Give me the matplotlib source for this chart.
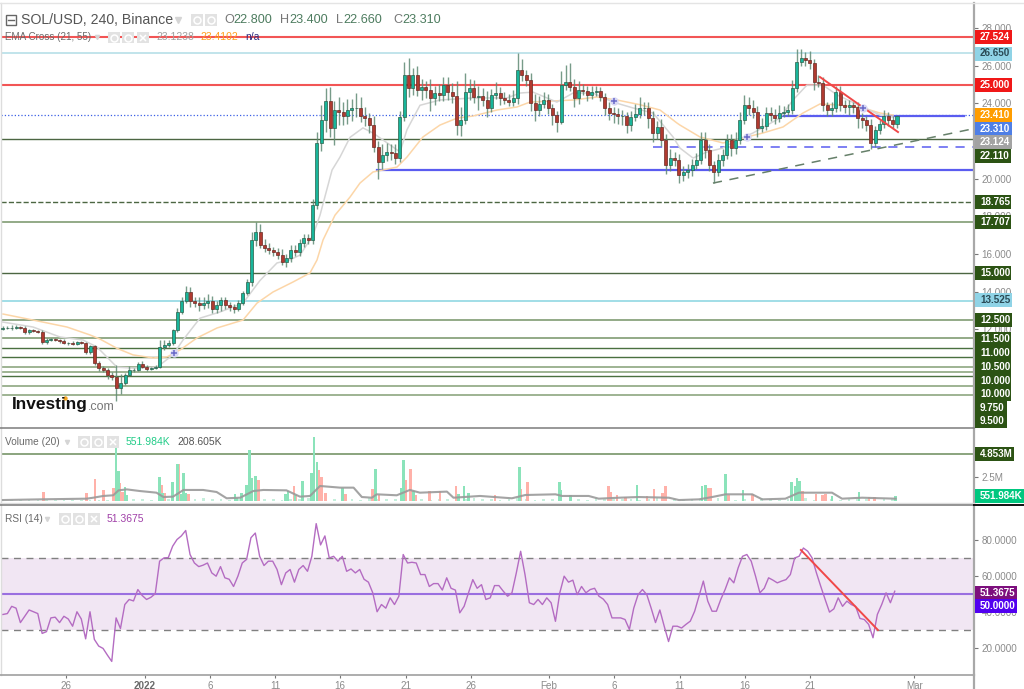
import numpy as np
import matplotlib
matplotlib.use("Agg")
import matplotlib.pyplot as plt
from matplotlib.patches import Rectangle

plt.rcParams['font.family'] = ['Liberation Sans', 'DejaVu Sans']

# ---------- data ----------
close = [
 12.08,12.1,12.1,12.12,12.1,11.88,11.95,11.9,11.85,11.35,
 11.45,11.5,11.42,11.38,11.3,11.3,11.25,11.35,11.28,10.82,
 11.1,10.22,9.95,9.85,9.58,9.49,8.9,9.15,9.58,9.85,
 9.85,10.17,10.03,9.9,9.95,10.03,11.07,11.18,11.3,11.95,
 12.95,13.5,14.0,13.5,13.4,13.3,13.4,13.5,13.1,13.3,
 13.55,13.3,13.2,13.1,13.4,13.95,14.5,16.75,17.2,16.5,
 16.3,16.2,16.1,15.95,15.6,15.8,16.2,16.1,16.6,16.85,
 16.75,18.6,21.9,23.1,24.15,22.7,23.65,23.55,23.33,23.65,
 23.76,23.76,23.33,23.2,22.85,21.7,20.9,21.26,21.42,21.37,
 21.1,23.28,25.5,24.82,25.5,24.7,24.87,24.7,24.29,24.55,
 24.45,25.0,24.6,24.4,22.85,23.12,24.6,24.82,24.34,24.4,
 24.18,23.76,24.45,24.55,24.29,24.18,24.07,24.29,25.77,25.5,
 25.24,24.02,23.65,23.97,24.18,23.76,23.38,23.0,25.0,25.13,
 24.87,24.29,24.71,24.65,24.45,24.6,24.65,24.34,23.76,23.5,
 23.45,23.33,23.33,22.85,23.28,23.45,23.76,23.76,23.2,22.43,
 22.75,22.06,20.73,21.1,20.99,20.2,20.36,20.46,20.73,20.99,
 22.06,21.52,20.73,20.36,20.99,21.26,22.06,21.63,22.06,23.12,
 23.93,23.76,23.54,22.7,22.8,23.5,23.38,23.2,23.5,23.54,
 23.65,24.82,26.2,26.41,26.3,26.14,25.13,25.08,23.9,23.65,
 23.76,24.6,23.9,23.8,23.9,23.8,23.2,23.12,22.85,21.9,
 22.6,22.9,23.33,23.12,22.9,23.31]
first_open = 12.05
wick_up = [
 .1,.1,.15,.1,.05,.1,.1,.05,.05,.1,
 .1,.05,.05,.05,.1,.05,.1,.05,.05,.05,
 .1,.1,.1,.1,.1,.15,.6,.5,.1,.2,
 .1,.1,.15,.1,.05,.1,.35,.25,.15,.1,
 .2,.2,.3,.25,.2,.35,.3,.4,.3,.2,
 .2,.2,.15,.15,.15,.1,.2,.4,.5,.4,
 .3,.3,.2,.2,.3,.2,.3,.3,.2,.2,
 .2,.3,.6,.8,.65,.7,.5,.7,.5,.6,
 .5,.8,.6,.5,.3,.5,.3,.6,.5,.4,
 .5,.3,.7,.9,.4,.5,.4,.3,.6,.4,
 .5,.4,.4,.5,.8,.7,1.0,.5,.4,.5,
 .4,.5,.3,.6,.3,.3,.3,.4,.9,.6,
 .3,.4,.5,.4,.4,.3,.2,.2,.7,.9,
 1.0,.4,.5,.3,.3,.3,.3,.2,.2,.3,
 .3,.3,.3,.2,.3,.5,.6,.3,.3,.4,
 .3,.4,.3,.5,.3,.3,.3,.3,.3,.4,
 .4,.4,.3,.2,.3,.3,.3,.3,.4,.4,
 .5,.4,.4,.3,.4,.3,.3,.3,.4,.3,
 .3,.4,.7,.5,.3,.5,.2,.4,.3,.2,
 .3,.3,.3,.3,.3,.2,.3,.3,.2,.3,
 .2,.2,.3,.2,.2,.1]
wick_dn = [
 .1,.05,.15,.1,.1,.1,.1,.05,.05,.1,
 .1,.05,.05,.1,.05,.1,.05,.05,.05,.1,
 .1,.1,.15,.1,.2,.15,.7,.3,.1,.05,
 .1,.05,.05,.1,.05,.05,.05,.15,.1,.1,
 .1,.15,.1,.3,.2,.3,.2,.25,.2,.2,
 .3,.2,.2,.25,.1,.1,.1,.2,.3,.2,
 .2,.2,.2,.2,.2,.3,.2,.2,.2,.2,
 .2,.2,.2,.4,.6,.5,.9,.7,.5,.4,
 .6,.5,.3,.4,.4,.3,.9,.4,.3,.4,
 .3,.2,.2,.5,.4,.3,.5,.4,.7,.4,
 .3,.3,.4,.4,.55,.6,.2,.4,.3,.7,
 .3,.5,.2,.2,.4,.2,.2,.2,.3,.3,
 .3,.4,.6,.3,.2,.3,.5,.5,.1,.3,
 .2,.5,.3,.2,.3,.2,.2,.2,.4,.4,
 .5,.4,.5,.4,.3,.2,.2,.4,.5,.5,
 .3,.3,.5,.3,.3,.45,.3,.3,.3,.2,
 .2,.4,.3,.6,.2,.3,.2,.4,.3,.2,
 .2,.4,.3,.5,.2,.2,.3,.3,.2,.2,
 .2,.2,.2,.2,.3,.3,.4,.2,.3,.3,
 .3,.2,.3,.3,.4,.3,.5,.4,.3,.3,
 .2,.2,.2,.3,.2,.2]

ema55_day = [-10.84,-8.54,-5.94,-4.18,-3.41,-2.11,-0.88,0.65,1.72,2.72,4.02,5.56,7.55,8.62,9.85,11.38,12.68,13.22,
             13.68,14.6,15.75,16.51,17.51,19.35,20.11,21.34,22.64,23.95,25.17,27.01,28.54,29.54,31.3,32.84,34.67,36.21,37.97,39.5,
             40.8,41.03,42.56,44.33,45.4,46.17,47.39,48.93,50.46,51.76,53.3,55.05,56.36,57.36]
ema55 = [12.82,12.5,12.13,11.71,11.49,11.0,10.65,10.49,10.54,10.91,11.55,12.08,12.5,13.4,13.99,14.52,15.0,15.69,
         16.75,18.07,19.03,19.77,20.36,20.62,21.15,22.22,22.85,23.22,23.33,23.65,23.81,24.07,24.13,24.18,24.34,24.18,23.93,23.65,
         22.96,22.85,22.22,21.9,22.06,22.22,22.43,22.75,23.49,23.97,23.91,23.76,23.49,23.38]
ema21_day = [-10.92,-8.54,-6.47,-4.71,-3.64,-2.11,-0.88,0.96,2.18,2.95,4.25,5.79,7.55,8.85,10.15,11.15,11.92,12.91,13.45,14.37,14.98,15.75,16.74,17.51,18.81,19.58,
             20.11,21.11,22.64,25.17,27.78,28.77,29.77,31.6,32.84,34.37,35.9,37.43,38.97,40.5,41.03,42.03,43.1,44.33,45.4,46.63,48.7,49.69,50.76,51.99,53.07,55.05,56.36,57.36]
ema21 = [12.4,12.13,11.6,11.44,11.07,10.0,9.95,10.0,10.65,11.44,12.6,12.93,13.4,14.6,15.53,15.7,15.95,17.0,18.07,20.46,21.15,22.2,22.7,22.43,21.8,21.42,
         22.6,23.9,24.18,24.29,24.29,24.55,24.6,24.07,24.55,24.55,24.07,23.76,23.49,22.22,21.63,21.1,21.42,21.63,22.06,22.43,23.23,24.18,24.97,24.97,24.45,23.81,23.38,23.28]

vol_up_pos = [25.9,26.5,28,28.4,35.9,36.6,38.9,40,41,41.4,42,53.2,53.7,54.7,55.9,56.5,57,57.9,64.8,65.4,67,68.7,70.8,71.3,72,77.8,85.4,91.4,91.9,94.1,
              104.4,105.7,106.7,118.4,127.6,128,130.1,145.4,160.3,161.1,165.7,169.7,180.8,181.6,182.1,182.7,190.1,196.3,204.7]
vol_up = [5.5,3.1,1.4,.6,2.5,.85,2.0,3.8,.7,2.9,.85,.76,.35,.85,1.7,5.3,2.4,2.6,.7,1.0,.6,2.1,2.9,6.65,4.07,1.3,3.3,1.3,4.2,1.0,
          .7,1.6,.8,3.55,2.0,1.1,.6,1.7,1.55,1.65,2.75,1.1,2.0,1.5,2.4,2.1,.5,.9,.55]
vol_dn_pos = [9.3,19.2,21.1,23,25.3,26.8,27.4,36.4,37.2,40.4,42.5,58.6,66.7,67.2,72.3,73.1,73.9,78.6,84.8,86.2,92.4,93.4,94.6,97.8,100.2,103.9,112.8,
              118.8,120.3,138.8,139.3,140.8,142.7,147.7,149.3,151.3,151.9,161.7,162.2,166.4,171.8,183.3,186.4,187.9,188.6,198.6,199.8]
vol_dn = [.93,.8,2.3,1.1,1.3,1.9,.9,1.7,.85,3.86,.7,2.2,1.55,.6,3.2,2.5,.85,.7,1.2,.6,2.2,3.3,.6,1.0,1.0,1.5,.6,
          1.2,2.0,1.6,.9,.6,.4,.55,1.2,.8,1.55,1.3,1.3,.6,.7,1.0,.7,.6,.7,.45,.45]
vol_small = [.1,.12,.1,.1,.15,.1,.12,.1,.1,.12,.15,.12,.1,.2,.25,.2,.2,.15,.15,.2,.25,.15,.2,.3,.2,.2,.15,.2,.15,.2,
             .25,.2,.15,.2,.25,.3,.2,.25,.2,.15,.2,.15,.3,.2,.25,.2,.3,.25,.2,.15,.25,.2,.15,.2,.3,.2,.25,.15,.2,.3,
             .2,.15,.25,.2,.3,.25,.2,.15,.3,.2,.25,.2,.2,.15,.25,.3,.2,.25,.15,.2,.25,.15,.3,.2,.15,.2,.25,.3,.2,.15,
             .25,.2,.3,.15,.2,.25,.15,.2,.25,.2,.15,.2,.25]
vol_ma_pos = [0,8.5,19.2,20.7,23,25.3,26.5,28.4,31.4,35.2,36.8,39,41.4,45.9,49,51.3,54.4,57.4,59.7,65,68.1,70.4,72.7,77.3,80.4,82.3,84.6,85.7,90.3,93.3,95.6,101.8,103.3,109.4,116.7,
              119.8,126.7,128.2,134.3,136.6,141.2,145.8,152.7,155,159.6,162.6,165.7,171.8,174.1,179.4,182.5,190.1,192.4,197,204.7]
vol_ma = [.1,.17,.24,.34,.52,.59,1.1,1.2,1.03,.86,.41,.45,1.14,1.14,.93,.28,.34,1.03,1.14,1.1,.45,.52,1.55,1.38,1.38,.41,.34,.69,.59,1.14,.86,.97,.34,.52,.28,
          .62,.69,.52,.52,.24,.34,.41,.34,.1,.17,.41,.69,.69,.17,.24,.86,.86,.24,.34,.24]

rsi = [
 38.5,39,43,42,34,37.5,41,40,39,28,
 29,36.6,37,34,37.5,36,32,40,36,25,
 40,24.7,21,19.7,16,12.5,36.6,30.7,44,46.8,
 46,52.3,49,46.8,48,50,68,69.8,70,76.3,
 80,82,85,71.7,67,65,65.8,67,61.5,59.7,
 65,58.8,58,54,59.7,67,69,81,83.6,70.7,
 65.6,68,68,63.4,55,61.5,63.4,56.4,63.4,65.6,
 62.4,70.7,88.8,77,82,69.8,70.7,68,70.7,62.4,
 63.7,61.5,63.4,58,56.4,50.5,40,44,42,47.7,
 44,48.6,71.7,67,67.4,67,60.6,60.6,54,55.6,
 55.6,52,58.8,53,52,39.4,43,50.5,57.8,53,
 55,46.8,47.7,54.5,54.5,51.4,48.6,50.5,61.5,73.5,
 60.6,45,44,46.8,44,47.7,45,34.7,50.5,59.7,
 56.4,57.5,49.5,54,50.5,52.3,53,48.6,47,44,
 36.6,36.6,36.6,35.7,30.2,42,49.5,52.3,49.5,42,
 34,41,32,23.5,32,32,31,33,34.8,40.3,
 48.6,57,46,40.3,40.3,46.8,52.3,58.8,56,64.3,
 70.7,71.7,68,59.7,50.5,53,58.8,57.5,56,57,
 57.8,60.6,69.8,70.7,75.3,73.5,69.8,61.5,54,46.8,
 39.8,41.6,47.7,43,45.9,44,43,36.3,35.7,33,
 25.6,38.5,44,50.5,45,51.37]

levels = [27.524,26.65,25.0,23.41,22.11,18.765,17.707,15.0,13.525,12.5,11.547,11.017,10.539,10.008,9.743,9.531,8.999,8.522]
level_colors = ['#f25555','#b0dce6','#f25555','#3a5fe5','#4c6642','#4c6642','#8aa47e','#4c6642','#88d4e0','#8aa47e','#8aa47e','#4a7040','#4a7040','#96ae8a','#96ae8a','#4a7040','#96ae8a','#96ae8a']
level_styles = ['-','-','-',':','-','--','-','-','-','-','-','-','-','-','-','-','-','-']
level_widths = [1.5,1.1,1.5,0.9,1.0,1.0,1.3,1.0,1.1,1.3,1.3,1.0,1.0,1.3,1.3,1.0,1.3,1.3]
blue_levels = [23.31,20.46,21.68]
blue_starts = [48.85,17.8,38.97]
blue_ends = [62.8,63.56,63.56]
blue_styles = ['-','-','--']
trend_red_day = [51.76,57.74]; trend_red = [25.4,22.48]
trend_dash_day = [43.56,63.4]; trend_dash = [19.77,22.64]
rsi_trend_day = [50.3,56.2]; rsi_trend = [74.2,29.9]
cross_day = [2.26,35.98,46.17,55.06]; cross_price = [10.75,24.13,22.22,23.76]

xtick_days = [-6,0,5,10,15,20,25,31,36,41,46,51,59]
xtick_labels = ['26','2022','6','11','16','21','26','Feb','6','11','16','21','Mar']
price_ticks = [28,26,24,20,18,16,14,12]
rsi_ticks = [80,60,40,20]

# ---------- layout helpers (pixels of a 1024x689 figure) ----------
W, H = 1024, 689
fig = plt.figure(figsize=(W/100, H/100), dpi=100, facecolor='white')
def pane(x0, y0, x1, y1):
    return fig.add_axes([x0/W, 1-y1/H, (x1-x0)/W, (y1-y0)/H])
px_to_day = lambda px: (px-144.5)/13.05
xlim = (px_to_day(1), px_to_day(974))
TICK = '#8a8a8a'; FS = 7.1

ax = pane(1, 3, 974, 428)
ax.set_ylim(6.77, 29.33)
vx = pane(1, 428, 974, 504)
vx.set_ylim(-0.31, 7.54)
rx = pane(1, 504, 974, 675)
rx.set_ylim(4.98, 99.67)
for a in (ax, vx, rx):
    a.set_xlim(*xlim)
    a.set_facecolor('white')
    a.yaxis.tick_right()
    a.set_xticks([])
    a.tick_params(axis='y', length=3, width=0.8, color='#777', labelcolor=TICK, labelsize=FS, pad=2.5)
    for s in ('top', 'bottom'):
        a.spines[s].set_visible(False)
    a.spines['left'].set_color('#dddddd'); a.spines['left'].set_linewidth(1)
    a.spines['right'].set_color('#a8a8a8'); a.spines['right'].set_linewidth(1.6)

n = len(close)
step = 0.3342
t = px_to_day(897) - (n-1-np.arange(n))*step
vpos = lambda p: t[0] + np.asarray(p)*step

# ---------- price ----------
ax.set_yticks(price_ticks, [f'{v:.3f}' for v in price_ticks])
for v, c, s, w in zip(levels, level_colors, level_styles, level_widths):
    ax.axhline(v, color=c, ls=s, lw=w, zorder=1)
for v, a0, a1, s in zip(blue_levels, blue_starts, blue_ends, blue_styles):
    ax.plot([a0, a1], [v, v], color='#5a5cf0', ls=s, lw=1.6 if s == '-' else 1.1, zorder=1, dashes=(6, 5) if s == '--' else (None, None))
ax.plot(ema55_day, ema55, color='#fcd6a8', lw=1.1, zorder=2)
ax.plot(ema21_day, ema21, color='#d6d6d6', lw=1.1, zorder=2)
c = np.array(close)
o = np.r_[first_open, c[:-1]]
hi = np.maximum(o, c) + np.array(wick_up)
lo = np.minimum(o, c) - np.array(wick_dn)
ax.vlines(t, lo, hi, color='#5f8a74', lw=1, alpha=.85, zorder=3)
up = c >= o
ax.bar(t[up], (c-o)[up], bottom=o[up], width=.23, color='#18b59a', edgecolor='#2c5f4a', lw=.5, zorder=4)
ax.bar(t[~up], (o-c)[~up], bottom=c[~up], width=.23, color='#b03a30', edgecolor='#6a2a24', lw=.5, zorder=4)
ax.plot(trend_red_day, trend_red, color='#f04848', lw=1.4, zorder=5)
ax.plot(trend_dash_day, trend_dash, color='#66806a', lw=1.1, dashes=(6, 5), zorder=5)
ax.plot(cross_day, cross_price, ls='none', marker='o', ms=5, color='#d8d8f4', zorder=5)
ax.plot(cross_day, cross_price, ls='none', marker='+', ms=5, mew=1.1, color='#6a6ac8', zorder=6)

# ---------- volume ----------
vx.set_yticks([2.5], ['2.5M'])
vx.axhline(4.853, color='#8aa47e', lw=1.4, zorder=1)
vx.bar(vpos(np.arange(len(vol_small))*2), vol_small, width=.2, color='#c5efdc', zorder=2)
vx.bar(vpos(vol_dn_pos), vol_dn, width=.2, color='#ffb1a9', zorder=3)
vx.bar(vpos(vol_up_pos), vol_up, width=.2, color='#8be3ba', zorder=3)
vx.plot(vpos(vol_ma_pos), vol_ma, color='#9a9a9a', lw=1.5, alpha=.9, zorder=4)

# ---------- RSI ----------
rx.axhspan(30, 70, color='#f1e6f3', lw=0, zorder=0)
rx.axhline(70, color='#808080', lw=1, dashes=(5, 4), zorder=1)
rx.axhline(30, color='#808080', lw=1, dashes=(5, 4), zorder=1)
rx.axhline(50, color='#9a6fe0', lw=1.5, zorder=1)
rx.plot(px_to_day(3)+np.arange(n)/3, rsi, color='#b46cc2', lw=1, zorder=3)
rx.plot(rsi_trend_day, rsi_trend, color='#f04848', lw=1.4, zorder=4)
rx.set_yticks(rsi_ticks, [f'{v:.4f}' for v in rsi_ticks])
rx.set_xticks(xtick_days, xtick_labels)
rx.tick_params(axis='x', length=2.5, width=.8, color='#777', labelcolor=TICK, labelsize=7.1, pad=1.5)
for lbl in rx.get_xticklabels():
    if lbl.get_text() == '2022':
        lbl.set_fontweight('bold'); lbl.set_color('#6a6a6a')

# ---------- overlay in pixels: separators, legend texts, price tags ----------
ov = fig.add_axes([0, 0, 1, 1], zorder=10)
ov.set_xlim(0, W); ov.set_ylim(H, 0); ov.axis('off'); ov.patch.set_alpha(0)
ov.plot([0, 1024], [3, 3], color='#e4e4e4', lw=1)
ov.plot([0, 974], [428, 428], color='#7c7c7c', lw=1.1)
ov.plot([0, 974], [503, 503], color='#dcdcdc', lw=1)
ov.plot([0, 974], [505, 505], color='#777777', lw=1.1)
ov.plot([0, 974], [675, 675], color='#a0a0a0', lw=1.2)
ov.plot([974, 974], [675, 689], color='#a8a8a8', lw=1.6)
ov.plot([974, 1024], [505, 505], color='#111111', lw=1.4)

def txt(x, y, s, color='#6a6a6a', size=7.1, **kw):
    ov.text(x, y, s, color=color, fontsize=size, va='center', ha=kw.pop('ha', 'left'), **kw)

def icons(xs, y0, y1):
    for i, x in enumerate(xs):
        ov.add_patch(Rectangle((x, y0), 12, y1-y0, fc='#e2e2e2', ec='none'))
        ym = (y0+y1)/2
        ov.plot([x+6], [ym], marker=['o', 'o', 'x'][i % 3], ms=5, mfc='none', mec='white', mew=1.1)

ov.add_patch(Rectangle((5.5, 14.5), 10, 10, fc='white', ec='#666', lw=1))
ov.plot([7.5, 13.5], [19.5, 19.5], color='#666', lw=1)
txt(21, 20, 'SOL/USD, 240, Binance', color='#555555', size=10.2)
ov.plot([178], [20], marker='v', ms=4, color='#d5d5d5')
icons([190.5, 204.5], 14, 26)
for x, head, val in [(224, 'O', '22.800'), (280, 'H', '23.400'), (336, 'L', '22.660'), (393, 'C', '23.310')]:
    txt(x, 20, head, color='#777777', size=9.1)
    txt(x+(9 if head != 'L' else 7), 20, val, color='#4d7c5f', size=9.1)

txt(5, 37, 'EMA Cross (21, 55)')
ov.plot([97], [37], marker='v', ms=3, color='#d5d5d5')
icons([108, 122, 137], 32, 43)
txt(156, 37, '23.1238', color='#a0a0a0', size=7.5)
txt(200, 37, '23.4102', color='#ff9f1c', size=7.5)
txt(245, 37, 'n/a', color='#2a2a80', size=7.5)

txt(5, 442, 'Volume (20)', size=7.3)
ov.plot([67], [442], marker='v', ms=3, color='#d5d5d5')
icons([78, 92, 107], 436, 448)
txt(126, 442, '551.984K', color='#22cc88', size=7.5)
txt(177, 442, '208.605K', color='#555555', size=7.5)

txt(5, 519, 'RSI (14)', size=7.3)
ov.plot([47], [519], marker='v', ms=3, color='#d5d5d5')
icons([59, 73, 88], 513, 525)
txt(107, 519, '51.3675', color='#a040a8', size=7.5)

# Investing.com mark
txt(11.5, 405, 'Investing', color='#111111', size=12.4, fontweight='bold')
txt(88, 407, '.com', color='#777777', size=9)
ov.plot([65], [397.5], marker='o', ms=2.2, color='#f5a623')

# price tags: label, centre y in pixels, box right edge, fill, text colour
tag_text = ['27.524','26.650','25.000','23.410','23.310','23.124','22.110','18.765','17.707','15.000','13.525','12.500',
            '11.500','11.000','10.500','10.000','10.000','9.750','9.500','4.853M','551.984K','51.3675','50.0000']
tag_y = [37,53.5,85,115,128.5,142,156,202,222,273,300,320,339,353,367,381,394,408,421,454,496,592.7,606]
tag_r = [1012,1012,1012,1012,1012,1012,1011,1011,1011,1011,1012,1012,1011,1011,1011,1011,1011,1007,1007,1014,1024,1017,1017]
G = '#2c5314'
tag_fc = ['#f01818','#8fd3e6','#f01818','#ff9d00','#4f7fe6','#a3a3a3',G,G,G,G,'#8fd3e6',G,G,G,G,G,G,G,G,G,'#00c77f','#7d0f7d','#5200f0']
tag_tc = ['white','#2a4a55','white','white','white','white','white','white','white','white','#2a4a55','white',
          'white','white','white','white','white','white','white','white','white','white','white']
for s, y, r, fc, tc in zip(tag_text, tag_y, tag_r, tag_fc, tag_tc):
    ov.add_patch(Rectangle((975, y-7), r-975, 14, fc=fc, ec='none'))
    txt(980, y, s, color=tc, size=7.1, fontweight='bold')

fig.savefig('out.png', dpi=100)
